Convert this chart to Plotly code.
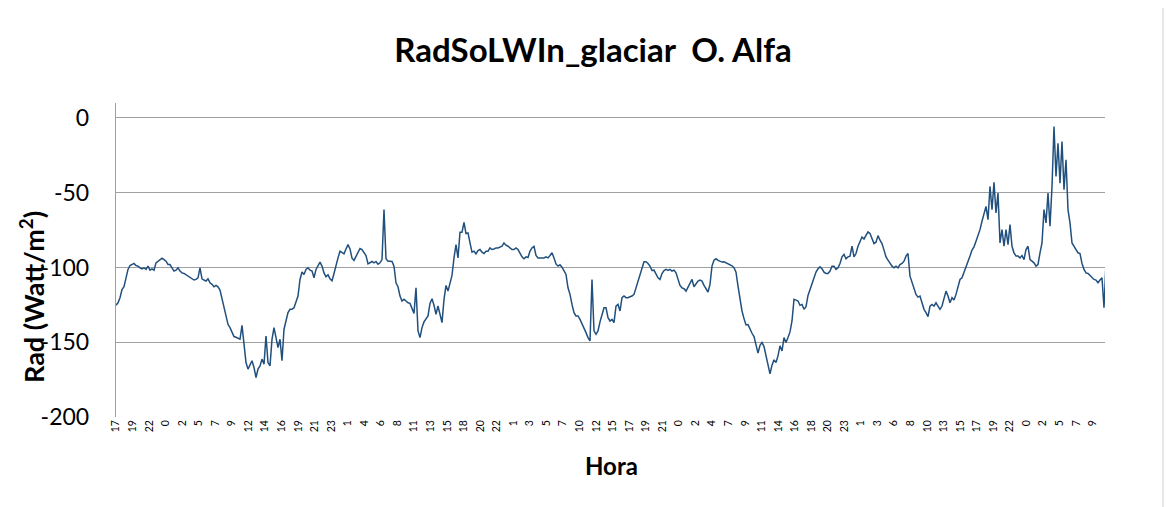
import numpy as np
import plotly.graph_objects as go

# Hourly tick labels shown along the category axis (hour of day)
hour_labels = ["17", "19", "22", "0", "2", "5", "7", "9", "12", "14", "16", "19", "21", "23", "1",
               "4", "6", "8", "11", "13", "15", "18", "20", "22", "1", "3", "5", "7", "10", "12",
               "15", "17", "19", "21", "0", "2", "4", "7", "9", "11", "14", "16", "18", "20", "23",
               "1", "3", "6", "8", "10", "13", "15", "17", "19", "22", "0", "2", "5", "7", "9"]

# y-axis ticks (Excel-style hyphen minus)
y_ticks = [0, -50, -100, -150, -200]
y_tick_labels = ["0", "-50", "-100", "-150", "-200"]

# Incoming long-wave radiation (W/m2), in time order
rad_day1 = [-125.3, -123.6, -120.2, -114.7, -112.9, -108.0, -101.3, -98.7, -98.0, -97.3,
            -98.7, -99.1, -100.2, -100.9, -100.2, -101.3, -99.1, -101.8, -100.9, -101.8,
            -96.9, -95.8, -94.7, -93.8, -94.7, -95.8, -98.0, -98.0, -100.2, -102.4,
            -101.8, -100.2, -102.4, -103.6, -104.0, -104.9, -105.8, -106.9, -107.6, -108.4,
            -108.0, -106.9, -100.2, -107.6, -108.4, -109.1, -107.6, -110.2, -111.3, -112.9,
            -112.0, -112.9, -115.1, -121.3, -125.8, -133.6, -138.0, -140.2, -143.6, -146.2,
            -146.7, -147.6, -148.0, -138.7, -150.2, -163.6, -168.0, -164.7, -162.4, -166.9,
            -173.6, -168.0, -165.8, -161.3, -164.7, -145.8, -163.6, -165.8, -148.0, -140.2,
            -147.0, -153.6, -148.0, -162.4, -141.3, -134.7, -130.2, -128.0, -128.0, -126.9,
            -122.4, -119.1, -108.0, -103.0, -104.7, -101.3, -100.2]
rad_day2 = [-101.8, -102.4, -106.9, -101.3, -99.1, -96.4, -99.1, -103.6, -106.2, -104.9,
            -107.6, -108.9, -104.0, -98.0, -93.6, -89.1, -90.2, -90.9, -87.6, -84.7,
            -87.6, -93.8, -95.3, -92.4, -90.2, -87.3, -88.0, -89.8, -92.0, -97.6,
            -96.9, -96.0, -96.9, -96.0, -97.8, -96.9, -94.7, -61.3, -94.2, -95.8,
            -95.8, -96.0, -99.1, -110.2, -112.9, -119.1, -122.4, -121.3, -122.4, -123.6,
            -124.0, -127.6, -130.7, -113.6, -142.4, -146.9, -140.2, -136.4, -134.2, -132.4,
            -124.0, -120.9, -125.3, -131.3, -125.8, -131.3, -136.9, -121.3, -112.0, -115.8,
            -110.7, -105.3, -93.6, -84.7, -93.6, -76.4, -76.4, -69.8, -77.3, -76.9,
            -83.6, -89.8, -89.1, -90.9, -88.7, -88.0, -89.8, -90.7, -89.1, -89.1,
            -86.9, -88.0, -87.6, -86.9, -86.9, -86.4, -85.8, -83.6]
rad_day3 = [-85.1, -85.8, -86.9, -88.0, -88.0, -86.9, -88.0, -90.9, -92.9, -94.2,
            -92.9, -93.3, -89.1, -86.9, -85.8, -92.0, -93.6, -93.6, -93.6, -93.6,
            -92.9, -93.6, -92.0, -90.2, -93.6, -97.6, -99.1, -98.2, -99.8, -101.8,
            -104.7, -113.6, -118.0, -124.7, -130.2, -132.4, -132.4, -134.7, -137.3, -140.2,
            -143.6, -146.9, -149.1, -108.0, -142.4, -144.7, -142.4, -136.4, -131.3, -126.9,
            -126.9, -133.6, -135.8, -134.7, -136.9, -125.8, -124.7, -129.1, -120.2, -119.1,
            -120.2, -120.2, -119.6, -119.1, -118.0, -113.6, -108.4, -105.3, -101.3, -96.2,
            -96.2, -97.3, -99.1, -102.0, -101.8, -104.2, -106.9, -108.0, -104.0, -102.0,
            -101.3, -102.0, -101.3, -102.4, -101.8, -103.6, -107.6, -112.0, -113.6, -114.2,
            -115.8, -112.9, -110.2, -108.0, -112.9, -111.3, -109.1]
rad_day4 = [-108.4, -109.1, -112.0, -114.7, -116.4, -111.3, -99.1, -95.1, -94.2, -95.3,
            -95.8, -96.4, -96.2, -96.9, -97.6, -98.0, -98.9, -100.2, -103.1, -112.4,
            -120.9, -129.1, -134.2, -138.4, -138.2, -141.8, -144.0, -146.2, -151.3, -157.3,
            -152.0, -150.2, -152.9, -159.1, -164.0, -171.1, -165.3, -161.8, -163.6, -159.1,
            -152.4, -155.8, -146.9, -150.2, -146.9, -143.1, -135.8, -121.3, -121.8, -122.4,
            -125.3, -124.7, -128.0, -126.2, -118.7, -115.1, -110.2, -107.6, -103.1, -100.9,
            -99.6, -100.9, -103.1, -104.0, -104.0, -102.4, -99.1, -99.1, -101.3, -100.2,
            -97.3, -92.9, -91.3, -94.2, -92.9, -92.4, -85.8, -92.9, -90.7, -85.8,
            -83.1, -79.6, -80.9, -78.7, -76.2, -77.3, -80.9, -84.0, -83.1, -78.7,
            -81.8, -84.0, -88.4, -92.9, -95.1, -97.3, -99.1, -100.2]
rad_day5 = [-99.1, -100.2, -98.0, -97.3, -95.8, -92.4, -90.7, -105.8, -109.8, -114.7,
            -118.0, -119.8, -119.1, -123.6, -128.0, -130.2, -132.9, -125.8, -124.7, -125.8,
            -123.6, -125.8, -128.0, -125.8, -121.3, -115.8, -119.1, -123.6, -120.2, -121.8,
            -118.0, -113.6, -108.0, -106.9, -103.6, -99.6, -96.9, -92.4, -88.4, -86.2,
            -82.4, -78.7, -74.7, -69.1, -63.6, -59.1, -68.0, -45.8, -61.3, -43.1,
            -63.6, -50.2, -83.6, -74.7, -85.8, -74.7, -84.7, -71.3, -85.8, -90.2,
            -92.4, -92.4, -93.6, -92.0, -94.7, -88.0, -85.8, -94.7, -95.8, -96.9,
            -99.1, -98.0, -90.2, -83.6, -61.3, -70.2, -50.2, -72.4, -45.8, -5.8,
            -39.1, -16.9, -43.6, -15.8, -48.0, -28.0, -61.3, -70.2, -83.6, -85.8,
            -88.0, -90.2, -90.7, -97.3, -101.3, -103.6, -104.0, -105.3, -106.9, -108.0,
            -108.4, -110.2, -108.4, -106.9, -126.9, -96.9]

rad = rad_day1 + rad_day2 + rad_day3 + rad_day4 + rad_day5
x = np.arange(len(rad))

n_label_steps = 59.8
tick_step = (len(rad) - 1) / n_label_steps
tickvals = [i * tick_step for i in range(len(hour_labels))]

line_color = "#21507e"
grid_color = "#a0a0a0"
font_family = "Lato, Open Sans, sans-serif"

# page pixel geometry of the plot area (the page body adds an 8 px offset)
W, H, OFF = 1166, 499, 8
PL, PR, PT, PB = 116, 1105, 103, 417
pw, ph = PR - PL, PB - PT

fig = go.Figure()
fig.add_trace(go.Scatter(x=x, y=rad, mode="lines",
                         line=dict(color=line_color, width=1.5),
                         showlegend=False, hoverinfo="y"))

fig.update_layout(
    width=W, height=H,
    margin=dict(l=PL - OFF, r=W + OFF - PR, t=PT - OFF, b=H + OFF - PB, autoexpand=False),
    paper_bgcolor="white", plot_bgcolor="white",
    title=dict(text="<b>RadSoLWIn_glaciar  O. Alfa</b>", x=(593 - OFF) / W, xref="container",
               xanchor="center", y=1 - (50 - OFF) / H, yref="container", yanchor="middle",
               font=dict(family=font_family, size=33, color="black")),
    font=dict(family=font_family, color="black"),
)

fig.update_xaxes(
    range=[0, len(rad) - 1.5],
    tickmode="array", tickvals=tickvals, ticktext=hour_labels,
    tickangle=-90, tickfont=dict(size=10.5, color="black"),
    showgrid=False, zeroline=False,
    showline=False, ticks="",
)

fig.update_yaxes(
    range=[-200, 10],
    tickmode="array", tickvals=y_ticks, ticktext=y_tick_labels,
    tickfont=dict(size=23, color="black"),
    ticklabelstandoff=21,
    showgrid=True, gridcolor=grid_color, gridwidth=1.4,
    zeroline=False,
    showline=True, linecolor=grid_color, linewidth=1.4,
    ticks="",
)

# axis titles placed as annotations (paper coordinates of the plot area)
fig.add_annotation(text="<b>Rad (Watt/m<sup>2</sup>)</b>", textangle=-90,
                   xref="paper", yref="paper",
                   x=(32 - PL) / pw, y=(PB - 297) / ph, showarrow=False,
                   xanchor="center", yanchor="middle",
                   font=dict(family=font_family, size=27, color="black"))
fig.add_annotation(text="<b>Hora</b>", xref="paper", yref="paper",
                   x=(611 - PL) / pw, y=(PB - 465) / ph, showarrow=False,
                   xanchor="center", yanchor="middle",
                   font=dict(family=font_family, size=24, color="black"))

# outer chart frame
fig.add_shape(type="rect", xref="paper", yref="paper",
              x0=(5 - PL) / pw, x1=(1163 - PL) / pw,
              y0=(PB - 520) / ph, y1=(PB - (-10)) / ph,
              line=dict(color="#d0d0d0", width=1), layer="below")

fig.write_html("out.html")
